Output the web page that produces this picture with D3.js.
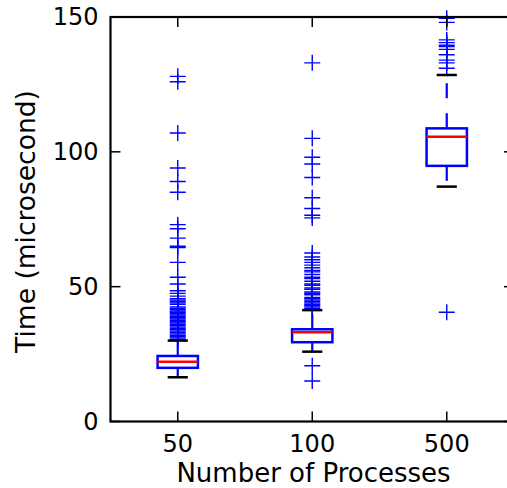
<!DOCTYPE html>
<html><head><meta charset="utf-8">
<script src="https://cdn.jsdelivr.net/npm/d3@7"></script>
<style>body{margin:0;background:#fff}svg{display:block}</style>
</head><body>
<svg id="c" width="507" height="488"></svg>
<script>
const categories = ["50", "100", "500"];
const q1 = [19.9, 29.4, 94.8];
const medians = [22.2, 33.1, 105.6];
const q3 = [24.3, 34.2, 108.7];
const whiskerLow = [16.4, 25.9, 87.1];
const whiskerHigh = [30.0, 41.3, 128.5];
const fliers50 = [128, 126, 107, 94, 89, 85, 73, 71.5, 68, 65, 64.5, 59, 53.5, 51, 48.5, 47.5, 46.5, 45.5, 45, 44.5, 44, 43.5, 42.5, 42, 41.5, 41, 40.5, 40, 39.5, 39, 38.5, 38, 37.5, 37, 36.5, 36, 35.5, 35, 34.5, 34, 33.5, 33, 32.5, 32, 31.5, 31, 30.5];
const fliers100 = [133, 105, 98, 95.5, 90.5, 83, 79, 76.5, 75.5, 62.5, 61, 60, 59, 58, 57, 56, 55.5, 54.5, 53.5, 53, 52, 51, 50.5, 49.5, 49, 48, 47.5, 47, 46, 45.5, 45, 44.5, 44, 43.5, 43, 42.5, 42, 20.7, 15];
const fliers500 = [149.5, 148, 141.5, 140.5, 139.5, 139, 138, 136, 134, 133, 131, 40.5];
const fliers = [fliers50, fliers100, fliers500];
const yTicks = [0, 50, 100, 150];
const xLabel = "Number of Processes";
const yLabel = "Time (microsecond)";

const L = 110.5, R = 514, T = 17, B = 421.5;
const svg = d3.select("#c");
const x = d3.scaleLinear().domain([0.5, 3.5]).range([L, R]);
const y = d3.scaleLinear().domain([0, 150]).range([B, T]);
const font = "'DejaVu Sans', sans-serif";
const boxW = 0.3;

const g = svg.append("g");
categories.forEach((c, i) => {
  const p = i + 1;
  const xl = x(p - boxW / 2), xr = x(p + boxW / 2), xc = x(p);
  const capL = x(p - boxW / 4), capR = x(p + boxW / 4);
  g.append("line").attr("x1", xc).attr("x2", xc).attr("y1", y(q1[i])).attr("y2", y(whiskerLow[i]))
    .attr("stroke", "#0000ff").attr("stroke-width", 2.2).attr("stroke-dasharray", "15,15");
  g.append("line").attr("x1", xc).attr("x2", xc).attr("y1", y(q3[i])).attr("y2", y(whiskerHigh[i]))
    .attr("stroke", "#0000ff").attr("stroke-width", 2.2).attr("stroke-dasharray", "15,15");
  fliers[i].forEach(v => {
    const fy = y(v), s = 8;
    g.append("path").attr("d", `M${xc - s},${fy}H${xc + s}M${xc},${fy - s}V${fy + s}`)
      .attr("stroke", "#0000ff").attr("stroke-width", 1.4).attr("fill", "none");
  });
  [whiskerLow[i], whiskerHigh[i]].forEach(v => {
    g.append("line").attr("x1", capL).attr("x2", capR).attr("y1", y(v)).attr("y2", y(v))
      .attr("stroke", "#000").attr("stroke-width", 2.5);
  });
  g.append("rect").attr("x", xl).attr("y", y(q3[i])).attr("width", xr - xl).attr("height", y(q1[i]) - y(q3[i]))
    .attr("fill", "none").attr("stroke", "#0000ff").attr("stroke-width", 2.5);
  g.append("line").attr("x1", xl).attr("x2", xr).attr("y1", y(medians[i])).attr("y2", y(medians[i]))
    .attr("stroke", "#ff0000").attr("stroke-width", 2.5);
});

svg.append("rect").attr("x", L).attr("y", T).attr("width", R - L).attr("height", B - T)
  .attr("fill", "none").attr("stroke", "#000").attr("stroke-width", 2.2);

const tl = 10;
const ax = svg.append("g");
yTicks.forEach(v => {
  ax.append("line").attr("x1", L).attr("x2", L + tl).attr("y1", y(v)).attr("y2", y(v)).attr("stroke", "#000").attr("stroke-width", 1.5);
  ax.append("line").attr("x1", R).attr("x2", R - tl).attr("y1", y(v)).attr("y2", y(v)).attr("stroke", "#000").attr("stroke-width", 1.5);
  ax.append("text").attr("x", L - 12).attr("y", y(v)).attr("text-anchor", "end").attr("dominant-baseline", "central")
    .attr("font-family", font).attr("font-size", 24).attr("fill", "#000").text(v);
});
categories.forEach((c, i) => {
  const xc = x(i + 1);
  ax.append("line").attr("x1", xc).attr("x2", xc).attr("y1", B).attr("y2", B - tl).attr("stroke", "#000").attr("stroke-width", 1.5);
  ax.append("line").attr("x1", xc).attr("x2", xc).attr("y1", T).attr("y2", T + tl).attr("stroke", "#000").attr("stroke-width", 1.5);
  ax.append("text").attr("x", xc).attr("y", 452).attr("text-anchor", "middle")
    .attr("font-family", font).attr("font-size", 24).attr("fill", "#000").text(c);
});
svg.append("text").attr("x", 313.5).attr("y", 482).attr("text-anchor", "middle")
  .attr("font-family", font).attr("font-size", 26).attr("fill", "#000").text(xLabel);
svg.append("text").attr("transform", `translate(35,221.5) rotate(-90)`).attr("text-anchor", "middle")
  .attr("font-family", font).attr("font-size", 26.5).attr("fill", "#000").text(yLabel);
</script>
</body></html>
